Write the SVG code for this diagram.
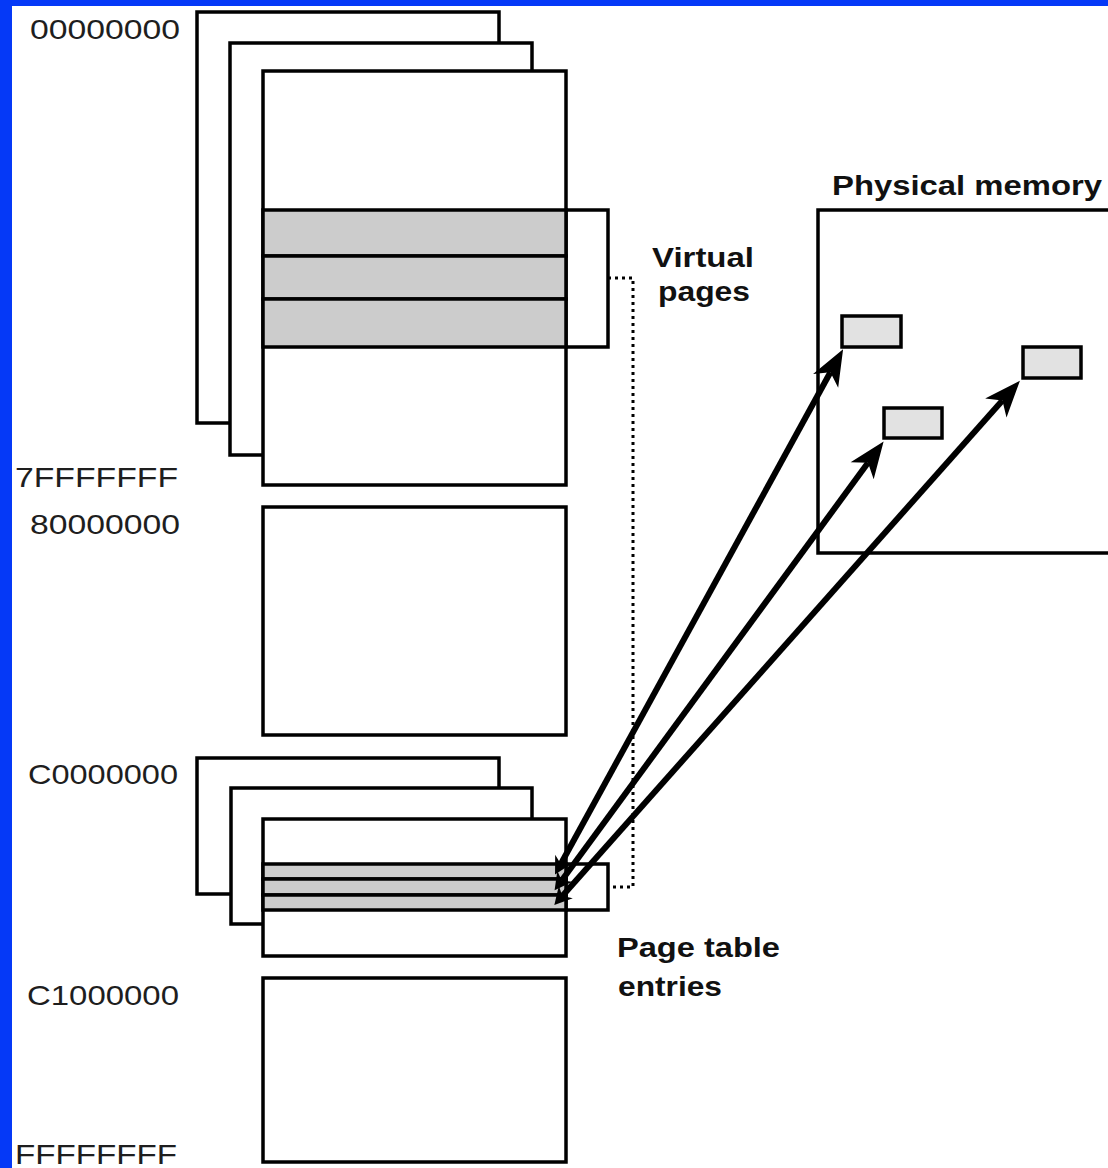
<svg xmlns="http://www.w3.org/2000/svg" width="1108" height="1168" viewBox="0 0 1108 1168">
  <style>
    .box { fill: #ffffff; stroke: #000000; stroke-width: 3.5; }
    .band { fill: #cccccc; stroke: #000000; stroke-width: 3.5; }
    .frame { fill: #e2e2e2; stroke: #000000; stroke-width: 3.5; }
    .brace { fill: none; stroke: #000000; stroke-width: 3.5; }
    .dots { fill: none; stroke: #000000; stroke-width: 3; stroke-dasharray: 3 4; }
    .addr { font-family: "Liberation Sans", Arial, sans-serif; font-size: 28px; fill: #1e1e1e; }
    .label { font-family: "Liberation Sans", Arial, sans-serif; font-size: 27px; font-weight: bold; fill: #111111; }
    .map { fill: none; stroke: #000000; stroke-width: 6; marker-end: url(#head); marker-start: url(#tail); }
  </style>
  <defs>
    <marker id="head" markerUnits="userSpaceOnUse" markerWidth="44" markerHeight="40" viewBox="-12 -15 40 30" refX="0" refY="0" orient="auto">
      <path d="M24,0 L-9,-13 L0,0 L-9,13 Z" fill="#000000"/>
    </marker>
    <marker id="tail" markerUnits="userSpaceOnUse" markerWidth="24" markerHeight="24" viewBox="-6 -8 18 16" refX="0" refY="0" orient="auto-start-reverse">
      <path d="M9,0 L-4,-7 L0,0 L-4,7 Z" fill="#000000"/>
    </marker>
  </defs>

  <!-- page background with blue margin -->
  <rect x="0" y="0" width="1108" height="1168" fill="#0539f7"/>
  <rect x="12" y="6" width="1096" height="1162" fill="#ffffff"/>

  <!-- address labels -->
  <g id="addresses">
    <text class="addr" x="30" y="39" textLength="150" lengthAdjust="spacingAndGlyphs">00000000</text>
    <text class="addr" x="15" y="487" textLength="163" lengthAdjust="spacingAndGlyphs">7FFFFFFF</text>
    <text class="addr" x="30" y="534" textLength="150" lengthAdjust="spacingAndGlyphs">80000000</text>
    <text class="addr" x="28" y="784" textLength="150" lengthAdjust="spacingAndGlyphs">C0000000</text>
    <text class="addr" x="27" y="1005" textLength="152" lengthAdjust="spacingAndGlyphs">C1000000</text>
    <text class="addr" x="15" y="1164" textLength="162" lengthAdjust="spacingAndGlyphs">FFFFFFFF</text>
  </g>

  <!-- user-mode process address spaces (stacked) -->
  <g id="user-space">
    <rect class="box" x="197" y="12" width="302" height="411"/>
    <rect class="box" x="230" y="43" width="302" height="412"/>
    <rect class="box" x="263" y="71" width="303" height="414"/>
    <rect class="band" x="263" y="210" width="303" height="46"/>
    <rect class="band" x="263" y="256" width="303" height="43"/>
    <rect class="band" x="263" y="299" width="303" height="48"/>
    <path class="brace" d="M566,210 H608 V347 H566"/>
  </g>

  <!-- system space 80000000 - BFFFFFFF -->
  <g id="system-space">
    <rect class="box" x="263" y="507" width="303" height="228"/>
  </g>

  <!-- page tables (stacked, one per process) -->
  <g id="page-tables">
    <rect class="box" x="197" y="758" width="302" height="136"/>
    <rect class="box" x="231" y="788" width="301" height="136"/>
    <rect class="box" x="263" y="819" width="303" height="137"/>
    <rect class="band" x="263" y="864" width="303" height="15"/>
    <rect class="band" x="263" y="879" width="303" height="16"/>
    <rect class="band" x="263" y="895" width="303" height="15"/>
    <path class="brace" d="M566,864 H608 V910 H566"/>
  </g>

  <!-- upper system space C1000000 - FFFFFFFF -->
  <g id="upper-system-space">
    <rect class="box" x="263" y="978" width="303" height="184"/>
  </g>

  <!-- physical memory with three page frames -->
  <g id="physical-memory">
    <rect class="box" x="818" y="210" width="300" height="343"/>
    <rect class="frame" x="842" y="316" width="59" height="31"/>
    <rect class="frame" x="884" y="408" width="58" height="30"/>
    <rect class="frame" x="1023" y="347" width="58" height="31"/>
  </g>

  <!-- labels -->
  <g id="labels">
    <text class="label" x="832" y="195" textLength="270" lengthAdjust="spacingAndGlyphs">Physical memory</text>
    <text class="label" x="652" y="267" textLength="102" lengthAdjust="spacingAndGlyphs">Virtual</text>
    <text class="label" x="658" y="301" textLength="92" lengthAdjust="spacingAndGlyphs">pages</text>
    <text class="label" x="617" y="957" textLength="163" lengthAdjust="spacingAndGlyphs">Page table</text>
    <text class="label" x="618" y="996" textLength="104" lengthAdjust="spacingAndGlyphs">entries</text>
  </g>

  <!-- connectors -->
  <g id="connectors">
    <path class="dots" d="M608,278 H633 V887 H608"/>
    <path class="map" d="M560.8,864 L830.4,372.3"/>
    <path class="map" d="M561.7,880.5 L868,462.8"/>
    <path class="map" d="M562.3,896 L1002.4,400.5"/>
  </g>
</svg>
